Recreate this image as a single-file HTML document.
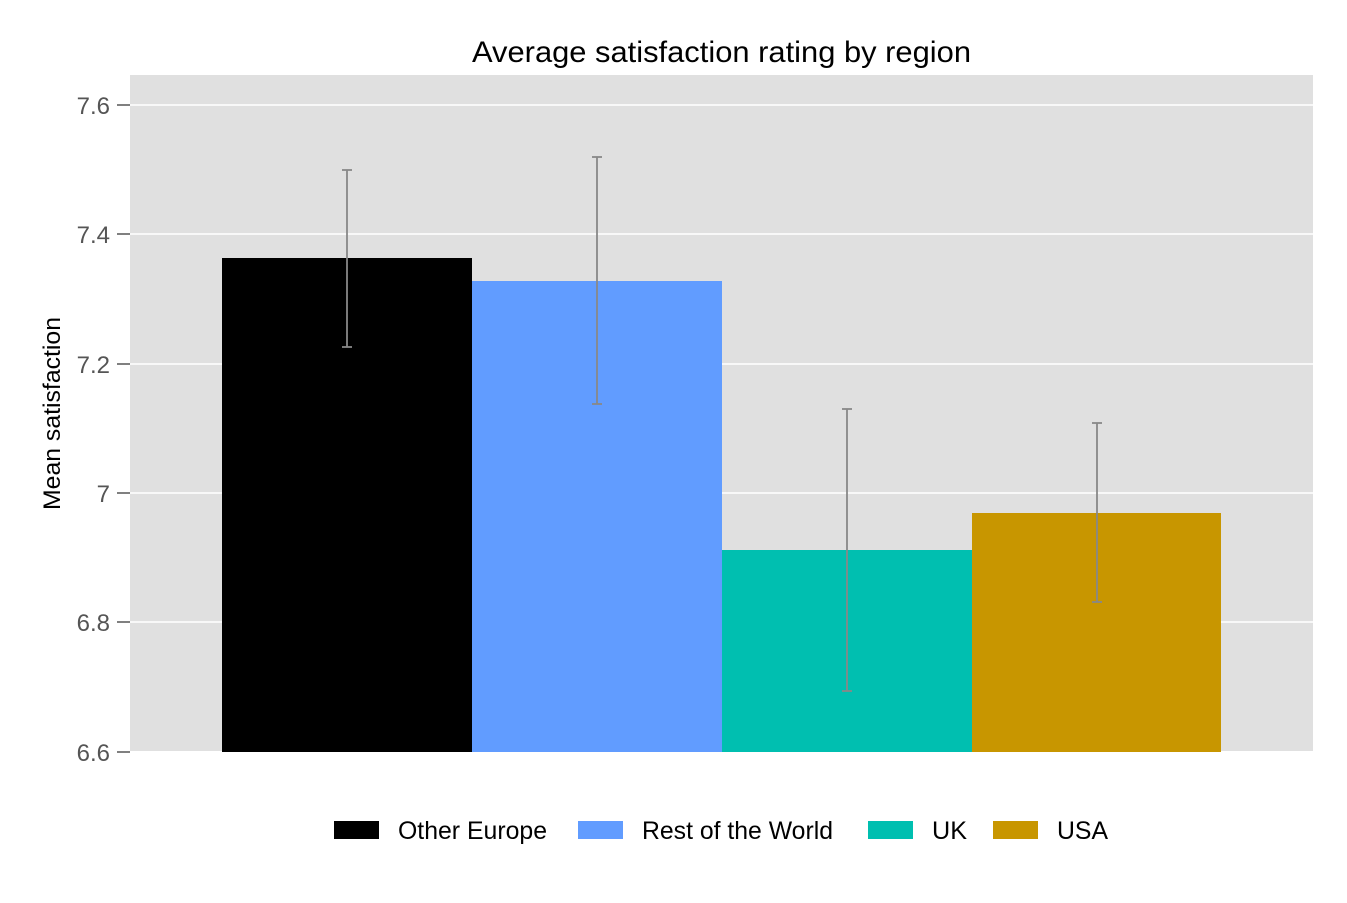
<!DOCTYPE html>
<html><head><meta charset="utf-8"><style>
html,body{margin:0;padding:0;background:#fff;}
</style></head><body>
<svg width="1347" height="898" viewBox="0 0 1347 898" xmlns="http://www.w3.org/2000/svg" font-family="Liberation Sans, Arial, sans-serif">
<rect x="0" y="0" width="1347" height="898" fill="#fff"/>
<rect x="130" y="75" width="1183" height="676" fill="#e0e0e0"/>
<g stroke="#fff" stroke-width="1.5">
<line x1="130" x2="1313" y1="105" y2="105"/>
<line x1="130" x2="1313" y1="234" y2="234"/>
<line x1="130" x2="1313" y1="364" y2="364"/>
<line x1="130" x2="1313" y1="493" y2="493"/>
<line x1="130" x2="1313" y1="622" y2="622"/>
</g>
<g stroke="#555" stroke-width="1.5">
<line x1="117" x2="130" y1="105" y2="105"/>
<line x1="117" x2="130" y1="234" y2="234"/>
<line x1="117" x2="130" y1="364" y2="364"/>
<line x1="117" x2="130" y1="493" y2="493"/>
<line x1="117" x2="130" y1="622" y2="622"/>
<line x1="117" x2="130" y1="752" y2="752"/>
</g>
<g font-size="24" fill="#555" text-anchor="end">
<text x="110" y="114">7.6</text>
<text x="110" y="243">7.4</text>
<text x="110" y="373">7.2</text>
<text x="110" y="502">7</text>
<text x="110" y="631">6.8</text>
<text x="110" y="761">6.6</text>
</g>
<rect x="222" y="258" width="250" height="494" fill="#000"/>
<rect x="472" y="281" width="250" height="471" fill="#619cff"/>
<rect x="722" y="550" width="250" height="202" fill="#00bfb0"/>
<rect x="972" y="513" width="249" height="239" fill="#c89600"/>
<g stroke="#888" stroke-width="1.8">
<line x1="347" x2="347" y1="170" y2="347"/><line x1="342" x2="352" y1="170" y2="170"/><line x1="342" x2="352" y1="347" y2="347"/>
<line x1="597" x2="597" y1="157" y2="404"/><line x1="592" x2="602" y1="157" y2="157"/><line x1="592" x2="602" y1="404" y2="404"/>
<line x1="847" x2="847" y1="409" y2="691"/><line x1="842" x2="852" y1="409" y2="409"/><line x1="842" x2="852" y1="691" y2="691"/>
<line x1="1097" x2="1097" y1="423" y2="602"/><line x1="1092" x2="1102" y1="423" y2="423"/><line x1="1092" x2="1102" y1="602" y2="602"/>
</g>
<text x="472" y="62" font-size="30" textLength="499" lengthAdjust="spacingAndGlyphs" fill="#000">Average satisfaction rating by region</text>
<text transform="translate(60,510) rotate(-90)" font-size="24" textLength="193" lengthAdjust="spacingAndGlyphs" fill="#000">Mean satisfaction</text>
<rect x="334" y="821" width="45" height="18" fill="#000"/>
<text x="398" y="839" font-size="25" textLength="149" lengthAdjust="spacingAndGlyphs">Other Europe</text>
<rect x="578" y="821" width="45" height="18" fill="#619cff"/>
<text x="642" y="839" font-size="25" textLength="191" lengthAdjust="spacingAndGlyphs">Rest of the World</text>
<rect x="868" y="821" width="45" height="18" fill="#00bfb0"/>
<text x="932" y="839" font-size="25" textLength="35" lengthAdjust="spacingAndGlyphs">UK</text>
<rect x="993" y="821" width="45" height="18" fill="#c89600"/>
<text x="1057" y="839" font-size="25" textLength="51" lengthAdjust="spacingAndGlyphs">USA</text>
</svg>
</body></html>
